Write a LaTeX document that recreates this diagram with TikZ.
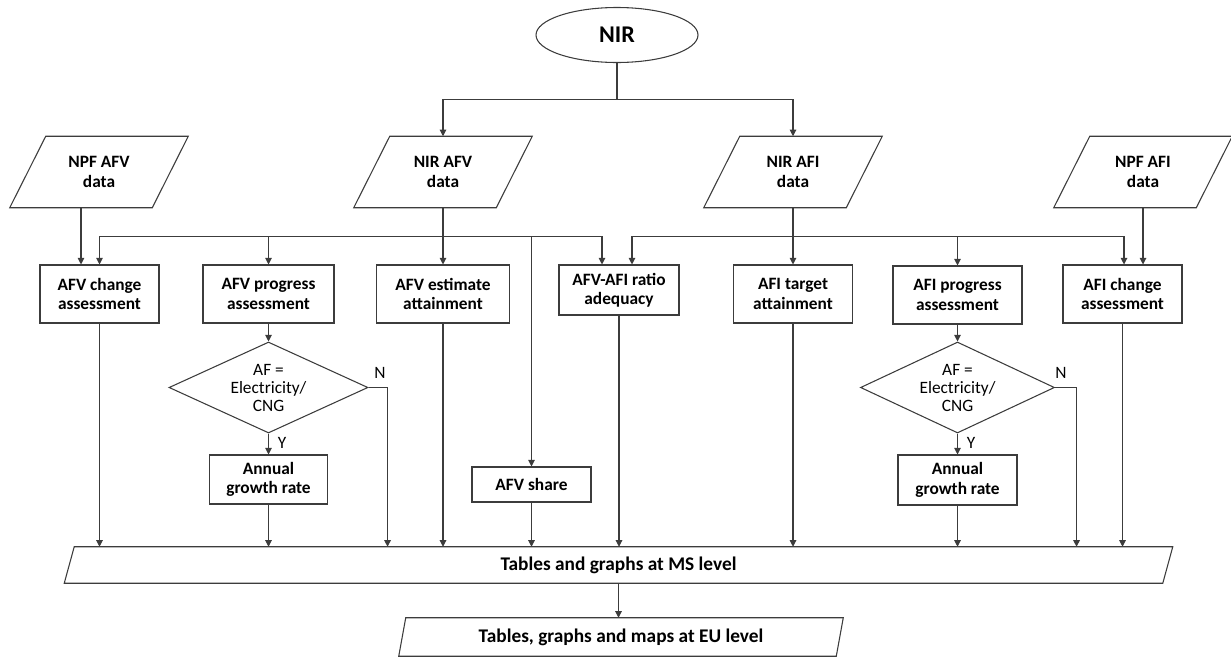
\documentclass[tikz,border=0pt]{standalone}
\usepackage{fontspec}
\setmainfont{Carlito}
\usetikzlibrary{shapes.geometric,arrows.meta,calc}
\definecolor{ln}{RGB}{60,60,60}
\newcommand\myslant[2]{%
  \draw[line] ($(#1.north west)+(#2,0)$) -- ($(#1.north east)+(#2,0)$) -- ($(#1.south east)+(-#2,0)$) -- ($(#1.south west)+(-#2,0)$) -- cycle;}
\begin{document}
\begin{tikzpicture}[x=0.75pt,y=-0.75pt,
  line/.style={draw=ln, line width=0.8pt},
  arr/.style={line, -{Triangle[width=5pt,length=5pt]}},
  pbox/.style={draw=ln, line width=0.8pt, rectangle, inner sep=0pt, align=center, text=black,
    font=\fontsize{13}{14.5}\selectfont\bfseries},
  datan/.style={rectangle, inner sep=0pt, align=center, minimum width=106.5pt, minimum height=53.25pt,
    font=\fontsize{13}{15}\selectfont\bfseries},
  dia/.style={draw=ln, line width=0.8pt, diamond, inner sep=0pt, minimum height=68.25pt},
  dtext/.style={align=center, inner sep=0pt, font=\fontsize{13}{13.5}\selectfont},
  lbl/.style={inner sep=0pt, font=\fontsize{13}{14}\selectfont},
  outn/.style={rectangle, inner sep=0pt, align=center, font=\fontsize{14.5}{16}\selectfont\bfseries}
]
\useasboundingbox (0,0) rectangle (1231,657);

% top
\node[draw=ln, line width=0.8pt, ellipse, inner sep=0pt, minimum width=121.5pt, minimum height=41.25pt,
  font=\fontsize{18}{20}\selectfont\bfseries] (nir) at (617,35) {NIR};

\node[datan] (npfafv) at (99,172) {NPF AFV\\data};
\node[datan] (nirafv) at (443,172) {NIR AFV\\data};
\node[datan] (nirafi) at (793,172) {NIR AFI\\data};
\node[datan] (npfafi) at (1143,172) {NPF AFI\\data};
\myslant{npfafv}{18}
\myslant{nirafv}{18}
\myslant{nirafi}{18}
\myslant{npfafi}{18}

% boxes
\node[pbox, minimum width=89.25pt, minimum height=43.5pt] (afvchange) at (99.5,294) {AFV change\\assessment};
\node[pbox, minimum width=98.25pt, minimum height=43.5pt] (afvprog) at (268.5,294) {AFV progress\\assessment};
\node[pbox, minimum width=99.75pt, minimum height=43.5pt] (afvest) at (443,294) {AFV estimate\\attainment};
\node[pbox, minimum width=90pt, minimum height=37.5pt] (ratio) at (619,290) {AFV-AFI ratio\\adequacy};
\node[pbox, minimum width=89.25pt, minimum height=43.5pt] (afitarget) at (793,294) {AFI target\\attainment};
\node[pbox, minimum width=96.75pt, minimum height=43.5pt] (afiprog) at (957.5,295) {AFI progress\\assessment};
\node[pbox, minimum width=89.25pt, minimum height=43.5pt] (afichange) at (1122.5,294) {AFI change\\assessment};

% decisions
\node[dia, minimum width=149.25pt] (d1) at (268.5,387.5) {};
\node[dtext] (d1t) at (d1) {AF =\\Electricity/\\CNG};
\node[dia, minimum width=145.5pt] (d2) at (957.5,387.5) {};
\node[dtext] (d2t) at (d2) {AF =\\Electricity/\\CNG};

\node[pbox, minimum width=88.5pt, minimum height=36.75pt] (annual1) at (268.5,479.5) {Annual\\growth rate};
\node[pbox, minimum width=89.25pt, minimum height=37.5pt] (annual2) at (957.5,480) {Annual\\growth rate};
\node[pbox, minimum width=89.25pt, minimum height=26.25pt] (afvshare) at (531.5,484.5) {AFV share};

% outputs
\node[outn, minimum width=823.5pt, minimum height=27pt] (ms) at (618.5,565) {Tables and graphs at MS level};
\myslant{ms}{5}
\node[outn, minimum width=327.75pt, minimum height=28.5pt] (eu) at (621,637) {Tables, graphs and maps at EU level};
\myslant{eu}{3.5}

% labels
\node[lbl] (y1) at (282,443) {Y};
\node[lbl] (nl1) at (380,373) {N};
\node[lbl] (y2) at (971,443) {Y};
\node[lbl] (nl2) at (1061,373) {N};

% NIR split
\coordinate (j0) at ($(nir.south)+(0,36)$);
\draw[line] (nir.south) -- (j0);
\draw[arr] (j0) -| (nirafv.north);
\draw[arr] (j0) -| (nirafi.north);

% NPF inputs
\coordinate (s1) at ($(npfafv.south)+(-18,0)$);
\draw[arr] (s1) -- (s1 |- afvchange.north);
\draw[arr] (npfafi.south) -- (npfafi.south |- afichange.north);

% AFV bus
\coordinate (b1) at ($(nirafv.south)+(0,29)$);
\draw[arr] (nirafv.south) -- (afvest.north);
\draw[arr] (b1) -| (afvchange.north);
\draw[arr] (b1) -| (afvprog.north);
\draw[arr] (b1) -| ($(ratio.north)+(-17,0)$);
\draw[arr] (b1 -| afvshare.north) -- (afvshare.north);

% AFI bus
\coordinate (b2) at ($(nirafi.south)+(0,29)$);
\draw[arr] (nirafi.south) -- (afitarget.north);
\draw[arr] (b2) -| ($(ratio.north)+(13,0)$);
\draw[arr] (b2) -| (afiprog.north);
\draw[arr] (b2) -| ($(afichange.north)+(1.5,0)$);

% progress branches
\draw[arr] (afvprog.south) -- (d1.north);
\draw[arr] (d1.south) -- (annual1.north);
\draw[arr] (afiprog.south) -- (d2.north);
\draw[arr] (d2.south) -- (annual2.north);
\coordinate (n1) at ($(d1.east)+(19,0)$);
\coordinate (n2) at ($(d2.east)+(21.5,0)$);
\draw[arr] (d1.east) -- (n1) -- (n1 |- ms.north);
\draw[arr] (d2.east) -- (n2) -- (n2 |- ms.north);

% to MS
\draw[arr] (afvchange.south) -- (afvchange.south |- ms.north);
\draw[arr] (annual1.south) -- (annual1.south |- ms.north);
\draw[arr] (afvest.south) -- (afvest.south |- ms.north);
\draw[arr] (afvshare.south) -- (afvshare.south |- ms.north);
\draw[arr] (ratio.south) -- (ratio.south |- ms.north);
\draw[arr] (afitarget.south) -- (afitarget.south |- ms.north);
\draw[arr] (annual2.south) -- (annual2.south |- ms.north);
\draw[arr] (afichange.south) -- (afichange.south |- ms.north);

% MS to EU
\draw[arr] (ms.south) -- (ms.south |- eu.north);
\end{tikzpicture}
\end{document}
